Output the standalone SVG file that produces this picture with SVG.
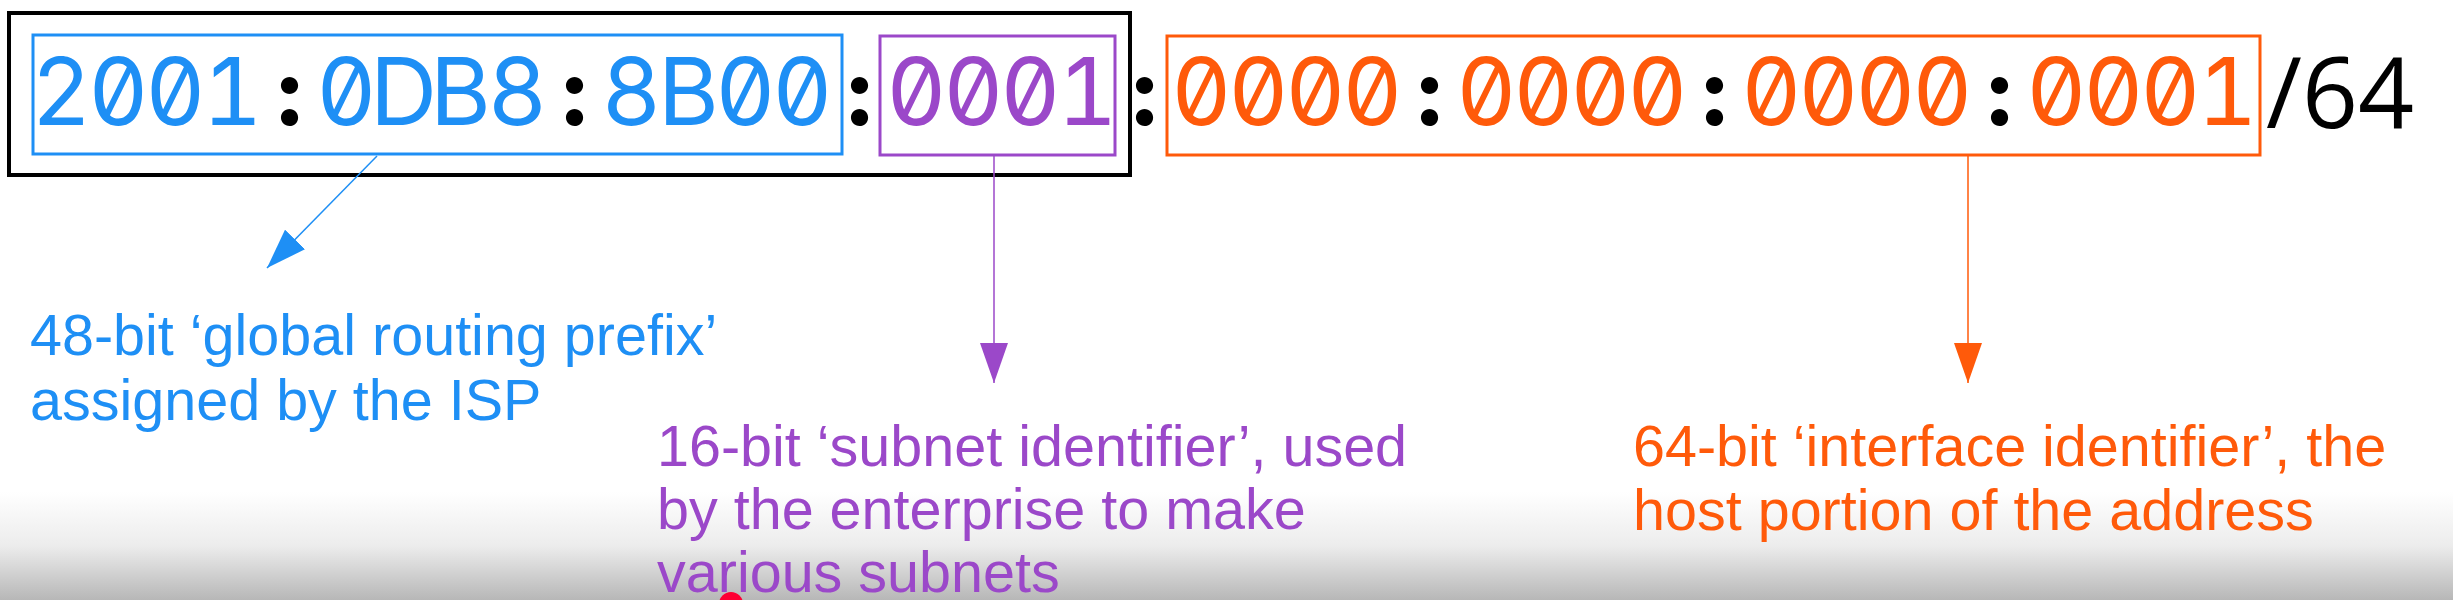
<svg xmlns="http://www.w3.org/2000/svg" width="2453" height="600" viewBox="0 0 2453 600">
<defs>
<linearGradient id="bg" x1="0" y1="0" x2="0" y2="600" gradientUnits="userSpaceOnUse">
<stop offset="0.82" stop-color="#ffffff"/>
<stop offset="0.91" stop-color="#ececec"/>
<stop offset="1" stop-color="#b7b7b7"/>
</linearGradient>
<marker id="ah-blue" markerUnits="userSpaceOnUse" markerWidth="40" markerHeight="28" viewBox="0 0 40 28" refX="40" refY="14" orient="auto"><path d="M0,0 L40,14 L0,28 z" fill="#1e8ff5"/></marker>
<marker id="ah-purple" markerUnits="userSpaceOnUse" markerWidth="40" markerHeight="28" viewBox="0 0 40 28" refX="40" refY="14" orient="auto"><path d="M0,0 L40,14 L0,28 z" fill="#9b48c9"/></marker>
<marker id="ah-orange" markerUnits="userSpaceOnUse" markerWidth="40" markerHeight="28" viewBox="0 0 40 28" refX="40" refY="14" orient="auto"><path d="M0,0 L40,14 L0,28 z" fill="#ff5a0a"/></marker>
</defs>
<style>
.mono{font-family:Inter,"DejaVu Sans Mono",monospace;font-size:93px;font-feature-settings:"zero" 1,"tnum" 1;text-anchor:middle}
.lbl{font-family:"Liberation Sans",Arial,sans-serif;font-size:57.5px}
.box{fill:none}
.blue{fill:#1e8ff5}.purple{fill:#9b48c9}.orange{fill:#ff5a0a}.blk{fill:#000;font-weight:800}
.conn{stroke-width:1.5;fill:none}
</style>
<rect x="0" y="0" width="2453" height="600" fill="url(#bg)"/>
<g id="address">
<rect class="box" x="9" y="13" width="1121" height="162" stroke="#000" stroke-width="4"/>
<text class="mono" y="125"><tspan class="blue" x="61.5 118.5 175.5 232.5">2001</tspan><tspan class="blk" x="289.5">:</tspan><tspan class="blue" x="346.5 403.5 460.5 517.5">0DB8</tspan><tspan class="blk" x="574.5">:</tspan><tspan class="blue" x="631.5 688.5 745.5 802.5">8B00</tspan><tspan class="blk" x="859.5">:</tspan><tspan class="purple" x="916.5 973.5 1030.5 1087.5">0001</tspan><tspan class="blk" x="1144.5">:</tspan><tspan class="orange" x="1201.5 1258.5 1315.5 1372.5">0000</tspan><tspan class="blk" x="1429.5">:</tspan><tspan class="orange" x="1486.5 1543.5 1600.5 1657.5">0000</tspan><tspan class="blk" x="1714.5">:</tspan><tspan class="orange" x="1771.5 1828.5 1885.5 1942.5">0000</tspan><tspan class="blk" x="1999.5">:</tspan><tspan class="orange" x="2056.5 2113.5 2170.5 2227.5">0001</tspan></text>
<text x="2266" y="128" font-family="'Open Sans','Noto Sans',sans-serif" font-size="98" fill="#000">/64</text>
</g>
<g id="prefix">
<rect class="box" x="33" y="35" width="809" height="119" stroke="#1e8ff5" stroke-width="3"/>
<text class="lbl blue"><tspan x="30" y="355">48-bit ‘global routing prefix’</tspan><tspan x="30" y="420">assigned by the ISP</tspan></text>
</g>
<g id="subnet">
<rect class="box" x="880" y="36" width="235" height="119" stroke="#9b48c9" stroke-width="3"/>
<text class="lbl purple"><tspan x="657" y="466">16-bit ‘subnet identifier’, used</tspan><tspan x="657" y="529">by the enterprise to make</tspan><tspan x="657" y="592">various subnets</tspan></text>
</g>
<g id="interface">
<rect class="box" x="1167" y="36" width="1093" height="119" stroke="#ff5a0a" stroke-width="3"/>
<text class="lbl orange"><tspan x="1633" y="466">64-bit ‘interface identifier’, the</tspan><tspan x="1633" y="530">host portion of the address</tspan></text>
</g>
<g id="connectors">
<line class="conn" x1="377" y1="156" x2="267" y2="268" stroke="#1e8ff5" marker-end="url(#ah-blue)"/>
<line class="conn" x1="994" y1="156" x2="994" y2="383" stroke="#9b48c9" marker-end="url(#ah-purple)"/>
<line class="conn" x1="1968" y1="156" x2="1968" y2="383" stroke="#ff5a0a" marker-end="url(#ah-orange)"/>
</g>
<circle cx="731" cy="604" r="12" fill="#ff0033"/>
</svg>
